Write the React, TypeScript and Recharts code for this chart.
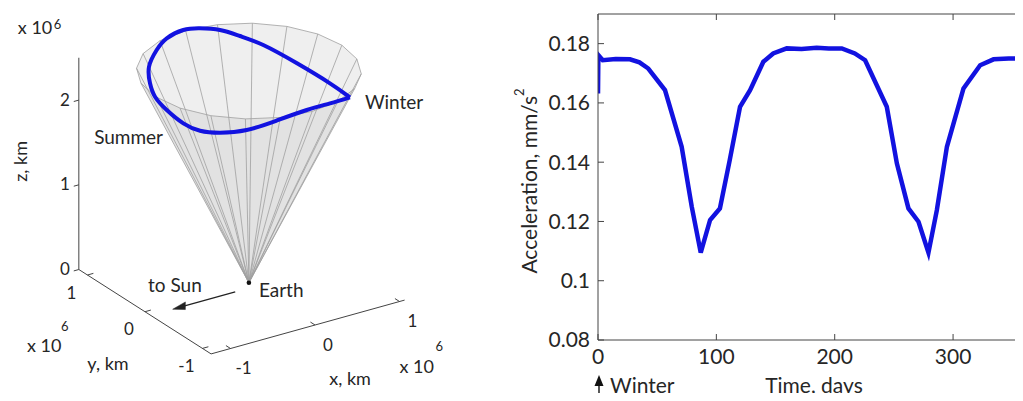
import React from 'react';
import { ComposedChart, LineChart, Line, Area, Scatter, XAxis, YAxis } from 'recharts';

// ---------- right panel: acceleration over one year
const days = [0, 0.3, 4, 15, 27, 35, 42.5, 56.6, 70.7, 79.2, 86.8, 94.7, 103, 111.3, 120, 128.5, 139.7, 148, 159.5, 172, 184.8, 195, 206, 217, 225.7, 244, 252.5, 262.3, 270.8, 279.2, 286.3, 294.8, 308.8, 322.9, 334.2, 347, 359, 365];
const accel = [0.1632, 0.1761, 0.1744, 0.1748, 0.1747, 0.1737, 0.1716, 0.1643, 0.1452, 0.125, 0.1095, 0.1205, 0.1244, 0.1407, 0.1587, 0.1643, 0.1739, 0.1767, 0.1784, 0.1782, 0.1786, 0.1784, 0.1784, 0.1767, 0.1744, 0.1587, 0.1396, 0.1244, 0.1199, 0.1095, 0.1238, 0.1452, 0.1649, 0.1727, 0.1747, 0.175, 0.175, 0.175];
const accelTicks = [0.08, 0.1, 0.12, 0.14, 0.16, 0.18];
const dayTicks = [0, 100, 200, 300];

// ---------- left panel: 3D cone, units of 1e6 km
const xLim = [-1.23, 1.06];
const yLim = [-1.15, 1.15];
const zLim = [0, 2.5];
const xTicks3d = [-1, 0, 1];
const yTicks3d = [-1, 0, 1];
const zTicks3d = [0, 1, 2];
const coneFacets = 20;
const coneRadius = 1.1;
const coneTop = 2.5;
// orbit loop, starting and ending at the winter point
const orbitX = [0.603, 0.619, 0.606, 0.564, 0.488, 0.401, 0.258, 0.099, -0.145, -0.379, -0.658, -0.864, -0.996, -1.071, -1.106, -1.064, -0.925, -0.67, -0.3, 0.083, 0.361, 0.603];
const orbitY = [-0.871, -0.5, 0.054, 0.579, 0.873, 1.092, 1.23, 1.286, 1.216, 1.047, 0.77, 0.45, 0.169, -0.145, -0.485, -0.714, -0.857, -0.947, -0.925, -0.884, -0.88, -0.871];
const orbitZ = [2.4, 2.4, 2.4, 2.4, 2.4, 2.4, 2.4, 2.4, 2.4, 2.4, 2.4, 2.4, 2.4, 2.4, 2.4, 2.4, 2.4, 2.4, 2.4, 2.4, 2.4, 2.4];

const FONT = 'Lato, "DejaVu Sans", sans-serif';
const INK = '#262626';
const AXIS = '#444';
const BLUE = '#1212e0';

type V = { vx: number; vy: number | null };

// fixed view (azimuth/elevation) -> 2D view units
const project = (x: number, y: number, z: number): V => ({
  vx: 84.5 * x - 57.5 * y,
  vy: 23.5 * x + 36.7 * y + 84.7 * z,
});

const polyline = (paths: number[][][]): V[] =>
  paths.flatMap((path) => [...path.map(([x, y, z]) => project(x, y, z)), { vx: 0, vy: null }]);

const triangleBand = (pts: V[]) => {
  const [a, b, c] = [...pts].sort((p, q) => p.vx - q.vx) as { vx: number; vy: number }[];
  const t = c.vx === a.vx ? 0 : (b.vx - a.vx) / (c.vx - a.vx);
  const yac = a.vy + t * (c.vy - a.vy);
  return [
    { vx: a.vx, band: [a.vy, a.vy] },
    { vx: b.vx, band: [Math.min(b.vy, yac), Math.max(b.vy, yac)] },
    { vx: c.vx, band: [c.vy, c.vy] },
  ];
};

const rim = Array.from({ length: coneFacets + 1 }, (_, k) => {
  const a = (2 * Math.PI * k) / coneFacets;
  return [coneRadius * Math.cos(a), coneRadius * Math.sin(a), coneTop];
});
const apex = [0, 0, 0];
const facetBands = rim.slice(0, coneFacets).map((p, k) =>
  triangleBand([project(apex[0], apex[1], apex[2]), project(p[0], p[1], p[2]), project(rim[k + 1][0], rim[k + 1][1], rim[k + 1][2])])
);
const coneEdges = polyline([...rim.slice(0, coneFacets).map((p) => [apex, p]), rim]);

const [x0, x1] = xLim;
const [y0, y1] = yLim;
const boxAxes = polyline([
  [[x0, y1, zLim[0]], [x0, y1, zLim[1]]],
  [[x0, y1, 0], [x0, y0, 0], [x1, y0, 0]],
  ...zTicks3d.map((z) => [[x0, y1, z], [x0 - 0.06, y1, z]]),
  ...yTicks3d.map((y) => [[x0, y, 0], [x0 + 0.07, y, 0]]),
  ...xTicks3d.map((x) => [[x, y0, 0], [x, y0 + 0.08, 0]]),
]);

const orbit = orbitX.map((x, i) => project(x, orbitY[i], orbitZ[i]));
const sunArrow = polyline([[[-0.23, -0.1, 0], [-0.86, -0.1, 0]]]);
const arrowHead = triangleBand([project(-0.97, -0.1, 0), project(-0.82, -0.1, 0.045), project(-0.82, -0.1, -0.045)]);
const earth = [project(0, 0, 0)];

type Tag = { at: number[]; text: string; dx: number; dy: number; anchor?: string; size?: number; angle?: number };
const tags: Tag[] = [
  ...zTicks3d.map((z) => ({ at: [x0, y1, z], text: String(z), dx: -9, dy: -1, anchor: 'end', size: 17 })),
  ...yTicks3d.map((y) => ({ at: [x0, y, 0], text: String(y), dx: -16, dy: 17, size: 17 })),
  ...xTicks3d.map((x) => ({ at: [x, y0, 0], text: String(x), dx: 13, dy: 19, size: 17 })),
  { at: [x0, y1, 1.3], text: 'z, km', dx: -59, dy: 2, size: 18, angle: -90 },
  { at: [x0, 0, 0], text: 'y, km', dx: -37, dy: 51, size: 18 },
  { at: [0, y0, 0], text: 'x, km', dx: 35, dy: 53, size: 18 },
  { at: [x0, y1, zLim[1]], text: 'x 10', dx: -61, dy: -31, anchor: 'start', size: 18 },
  { at: [x0, y1, zLim[1]], text: '6', dx: -25, dy: -34, anchor: 'start', size: 13 },
  { at: [x0, 0, 0], text: 'x 10', dx: -118, dy: 33, anchor: 'start', size: 18 },
  { at: [x0, 0, 0], text: '6', dx: -84, dy: 14, anchor: 'start', size: 13 },
  { at: [1, y0, 0], text: 'x 10', dx: 0, dy: 64, anchor: 'start', size: 18 },
  { at: [1, y0, 0], text: '6', dx: 36, dy: 44, anchor: 'start', size: 13 },
  { at: [orbitX[15], orbitY[15], orbitZ[15]], text: 'Summer', dx: -37, dy: 6, anchor: 'end', size: 19 },
  { at: [orbitX[0], orbitY[0], orbitZ[0]], text: 'Winter', dx: 15, dy: 4, anchor: 'start', size: 19 },
  { at: [0, 0, 0], text: 'Earth', dx: 10, dy: 7, anchor: 'start', size: 19 },
  { at: [0, 0, 0], text: 'to Sun', dx: -74, dy: 2, size: 19 },
];
const tagData = tags.map((t) => ({ ...project(t.at[0], t.at[1], t.at[2]), ...t }));

const TextMark = (p: any) => {
  const d = p.payload;
  const x = p.cx + d.dx;
  const y = p.cy + d.dy;
  return (
    <text
      x={x}
      y={y}
      textAnchor={d.anchor || 'middle'}
      dominantBaseline="central"
      fontSize={d.size}
      fontFamily={FONT}
      fill={INK}
      transform={d.angle ? `rotate(${d.angle} ${x} ${y})` : undefined}
    >
      {d.text}
    </text>
  );
};

const EarthDot = (p: any) => <circle cx={p.cx} cy={p.cy} r={2.3} fill="#111" />;

const ConePanel = () => (
  <ComposedChart width={470} height={401} margin={{ top: 0, right: 0, bottom: 0, left: 0 }}>
    <XAxis dataKey="vx" type="number" domain={[-248.9, 221.1]} allowDataOverflow hide />
    <YAxis type="number" domain={[-118.2, 282.8]} allowDataOverflow hide />
    {facetBands.map((band, i) => (
      <Area key={i} data={band} dataKey="band" type="linear" stroke="none" fill="#b4b4b4" fillOpacity={0.22} isAnimationActive={false} />
    ))}
    <Line data={coneEdges} dataKey="vy" type="linear" stroke="#a0a0a0" strokeWidth={0.8} dot={false} activeDot={false} isAnimationActive={false} />
    <Line data={boxAxes} dataKey="vy" type="linear" stroke={AXIS} strokeWidth={1} dot={false} activeDot={false} isAnimationActive={false} />
    <Line data={orbit} dataKey="vy" type="natural" stroke={BLUE} strokeWidth={4} dot={false} activeDot={false} isAnimationActive={false} />
    <Line data={sunArrow} dataKey="vy" type="linear" stroke="#222" strokeWidth={1.2} dot={false} activeDot={false} isAnimationActive={false} />
    <Area data={arrowHead} dataKey="band" type="linear" stroke="#222" strokeWidth={0.5} fill="#222" fillOpacity={1} isAnimationActive={false} />
    <Scatter data={earth} dataKey="vy" shape={EarthDot} isAnimationActive={false} />
    <Scatter data={tagData} dataKey="vy" shape={TextMark} isAnimationActive={false} />
  </ComposedChart>
);

const accelData = days.map((d, i) => ({ day: d, accel: accel[i] }));
const tickStyle = { fill: INK, fontSize: 21, fontFamily: FONT };

const AccelLabel = (p: any) => {
  const { x, y, height } = p.viewBox;
  const cx = x + 28;
  const cy = y + height / 2 + 4;
  return (
    <text x={cx} y={cy} textAnchor="middle" dominantBaseline="central" fontSize={21} fontFamily={FONT} fill={INK} transform={`rotate(-90 ${cx} ${cy})`}>
      Acceleration, mm/s
      <tspan fontSize={13} dy={-9}>2</tspan>
    </text>
  );
};

const TimeLabel = (p: any) => {
  const { x, y, width } = p.viewBox;
  const ax = x + 1;
  return (
    <g>
      <text x={x + width / 2} y={y + 53} textAnchor="middle" fontSize={21} fontFamily={FONT} fill={INK}>
        Time, days
      </text>
      <line x1={ax} y1={y + 42} x2={ax} y2={y + 62} stroke="#111" strokeWidth={1.4} />
      <path d={`M${ax - 4.5} ${y + 46}L${ax} ${y + 35}L${ax + 4.5} ${y + 46}Z`} fill="#111" />
      <text x={ax + 11} y={y + 53} textAnchor="start" fontSize={21} fontFamily={FONT} fill={INK}>
        Winter
      </text>
    </g>
  );
};

const AccelPanel = () => (
  <LineChart width={530} height={401} data={accelData} margin={{ top: 13, right: 0, bottom: 31, left: 0 }}>
    <XAxis
      dataKey="day"
      type="number"
      domain={[0, 365]}
      ticks={dayTicks}
      allowDataOverflow
      height={30}
      tickSize={-6}
      tickMargin={15}
      stroke={AXIS}
      tick={tickStyle}
      label={TimeLabel}
    />
    <XAxis
      xAxisId="top"
      orientation="top"
      dataKey="day"
      type="number"
      domain={[0, 365]}
      ticks={dayTicks}
      allowDataOverflow
      height={1}
      tickSize={-6}
      stroke={AXIS}
      tickFormatter={() => ''}
    />
    <YAxis
      type="number"
      domain={[0.08, 0.19]}
      ticks={accelTicks}
      allowDataOverflow
      interval={0}
      width={98}
      tickSize={-6}
      tickMargin={14}
      stroke={AXIS}
      tick={tickStyle}
      tickFormatter={(v: number) => String(v)}
      label={AccelLabel}
    />
    <Line type="linear" dataKey="accel" stroke={BLUE} strokeWidth={4.5} dot={false} activeDot={false} isAnimationActive={false} />
  </LineChart>
);

export default function App() {
  return (
    <div style={{ position: 'relative', width: 1023, height: 401, margin: -8, overflow: 'hidden', background: '#fff' }}>
      <div style={{ position: 'absolute', left: 0, top: 0 }}>
        <ConePanel />
      </div>
      <div style={{ position: 'absolute', left: 500, top: 0 }}>
        <AccelPanel />
      </div>
    </div>
  );
}
